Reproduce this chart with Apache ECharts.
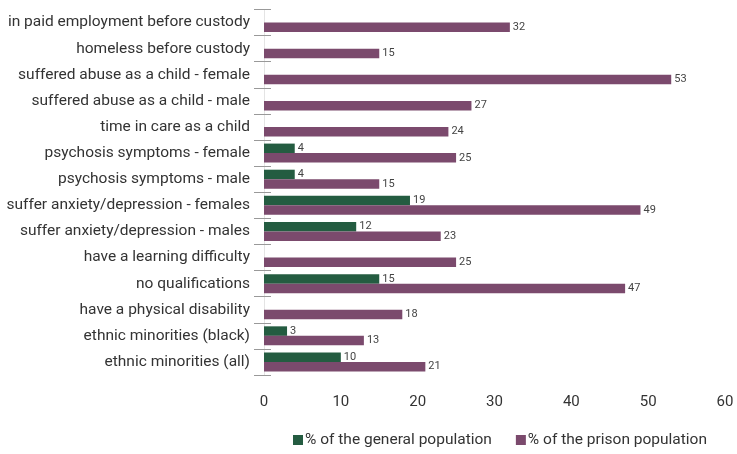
<!DOCTYPE html>
<html><head><meta charset="utf-8">
<script src="https://cdn.jsdelivr.net/npm/echarts@6/dist/echarts.min.js"></script>
<style>html,body{margin:0;padding:0;background:#fff}#c{width:737px;height:454px}</style>
</head><body><div id="c"></div>
<script>
const categories = ["in paid employment before custody","homeless before custody","suffered abuse as a child - female","suffered abuse as a child - male","time in care as a child","psychosis symptoms - female","psychosis symptoms - male","suffer anxiety/depression - females","suffer anxiety/depression - males","have a learning difficulty","no qualifications","have a physical disability","ethnic minorities (black)","ethnic minorities (all)"];
const generalPop = [null,null,null,null,null,4,4,19,12,null,15,null,3,10];
const prisonPop = [32,15,53,27,24,25,15,49,23,25,47,18,13,21];
const xTicks = [0,10,20,30,40,50,60];

const chart = echarts.init(document.getElementById('c'));
const font = 'Roboto, "Liberation Sans", sans-serif';
chart.setOption({
  animation:false,
  textStyle:{fontFamily:font},
  grid:{left:264,right:12,top:9.5,bottom:79,containLabel:false},
  legend:{bottom:1,left:288,itemWidth:10,itemHeight:10,itemGap:24,icon:'rect',
    textStyle:{fontSize:15.5,color:'#333',fontFamily:font,padding:[0,0,0,-3]},
    data:['% of the general population','% of the prison population']},
  xAxis:{type:'value',min:xTicks[0],max:xTicks[xTicks.length-1],interval:10,
    axisLine:{show:false},axisTick:{show:false},splitLine:{show:false},
    axisLabel:{fontSize:15,color:'#333',margin:20,fontFamily:font}},
  yAxis:[{type:'category',data:categories,inverse:true,
    axisLine:{show:true,lineStyle:{color:'#e4e4e4'}},
    axisTick:{show:true,length:10,interval:0,lineStyle:{color:'#999'}},
    axisLabel:{fontSize:15.5,color:'#333',margin:14,fontFamily:font}},
    {type:'category',data:categories,inverse:true,position:'left',
    axisLine:{show:false},axisLabel:{show:false},
    axisTick:{show:true,inside:true,length:7,interval:0,lineStyle:{color:'#999'}}}],
  series:[
    {name:'% of the general population',type:'bar',data:generalPop,barWidth:9.5,barGap:'0%',
      itemStyle:{color:'#245c41'},
      label:{show:true,position:'right',distance:3,fontSize:11,color:'#444',fontFamily:font}},
    {name:'% of the prison population',type:'bar',data:prisonPop,barWidth:9.5,barGap:'0%',
      itemStyle:{color:'#7b4a6d'},
      label:{show:true,position:'right',distance:3,fontSize:11,color:'#444',fontFamily:font}}
  ]
});
</script></body></html>
